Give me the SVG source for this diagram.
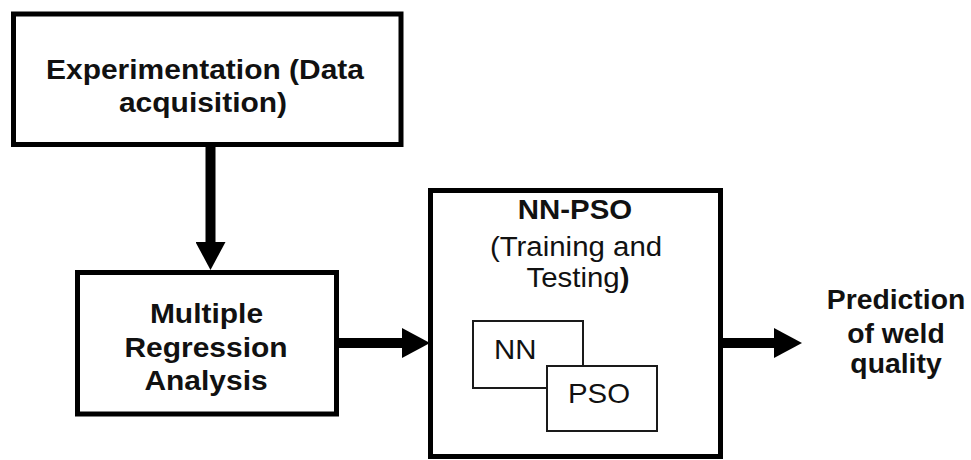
<svg xmlns="http://www.w3.org/2000/svg" width="971" height="460" viewBox="0 0 971 460">
  <style>
    .box { fill: #ffffff; stroke: #000000; stroke-width: 5; }
    .sub { fill: #ffffff; stroke: #1a1a1a; stroke-width: 2; }
    .conn { stroke: #000000; stroke-width: 10; fill: none; }
    .b { font-family: "Liberation Sans", Arial, sans-serif; font-weight: bold; font-size: 27.5px; fill: #111111; text-anchor: middle; }
    .r { font-family: "Liberation Sans", Arial, sans-serif; font-size: 27.5px; fill: #111111; text-anchor: middle; }
    .l { text-anchor: start; }
  </style>
  <defs>
    <marker id="head" markerUnits="userSpaceOnUse" markerWidth="28" markerHeight="30" refX="0" refY="15" orient="auto">
      <path d="M0,0 L28,15 L0,30 Z" fill="#000000"/>
    </marker>
  </defs>

  <rect width="971" height="460" fill="#ffffff"/>

  <!-- connectors -->
  <g id="connectors">
    <line class="conn" x1="210.5" y1="147" x2="210.5" y2="242" marker-end="url(#head)"/>
    <line class="conn" x1="339" y1="343" x2="402" y2="343" marker-end="url(#head)"/>
    <line class="conn" x1="723" y1="343" x2="774" y2="343" marker-end="url(#head)"/>
  </g>

  <!-- data acquisition -->
  <g id="experimentation">
    <rect class="box" x="13.5" y="14" width="387.5" height="130.5"/>
    <text class="b" transform="translate(205 79) scale(1.09 1)">Experimentation (Data</text>
    <text class="b" transform="translate(203 112) scale(1.09 1)">acquisition)</text>
  </g>

  <!-- regression -->
  <g id="regression">
    <rect class="box" x="77.5" y="272.5" width="259" height="141.5"/>
    <text class="b" transform="translate(206.5 323) scale(1.09 1)">Multiple</text>
    <text class="b" transform="translate(206 356.5) scale(1.09 1)">Regression</text>
    <text class="b" transform="translate(206 390) scale(1.09 1)">Analysis</text>
  </g>

  <!-- hybrid model -->
  <g id="nn-pso">
    <rect class="box" x="430.5" y="190.5" width="290" height="266"/>
    <text class="b" transform="translate(575 219) scale(1.07 1)">NN-PSO</text>
    <text class="r" transform="translate(576 256) scale(1.07 1)">(Training and</text>
    <text class="r" transform="translate(578 287) scale(1.07 1)">Testing<tspan font-weight="bold">)</tspan></text>
    <g id="nn">
      <rect class="sub" x="473" y="321" width="110" height="67"/>
      <text class="r l" transform="translate(494 359) scale(1.07 1)">NN</text>
    </g>
    <g id="pso">
      <rect class="sub" x="547" y="366" width="110" height="65"/>
      <text class="r l" transform="translate(568 403) scale(1.07 1)">PSO</text>
    </g>
  </g>

  <!-- output -->
  <g id="prediction">
    <text class="b" transform="translate(896 309) scale(1.03 1)">Prediction</text>
    <text class="b" transform="translate(896 343) scale(1.03 1)">of weld</text>
    <text class="b" transform="translate(896 373) scale(1.03 1)">quality</text>
  </g>
</svg>
